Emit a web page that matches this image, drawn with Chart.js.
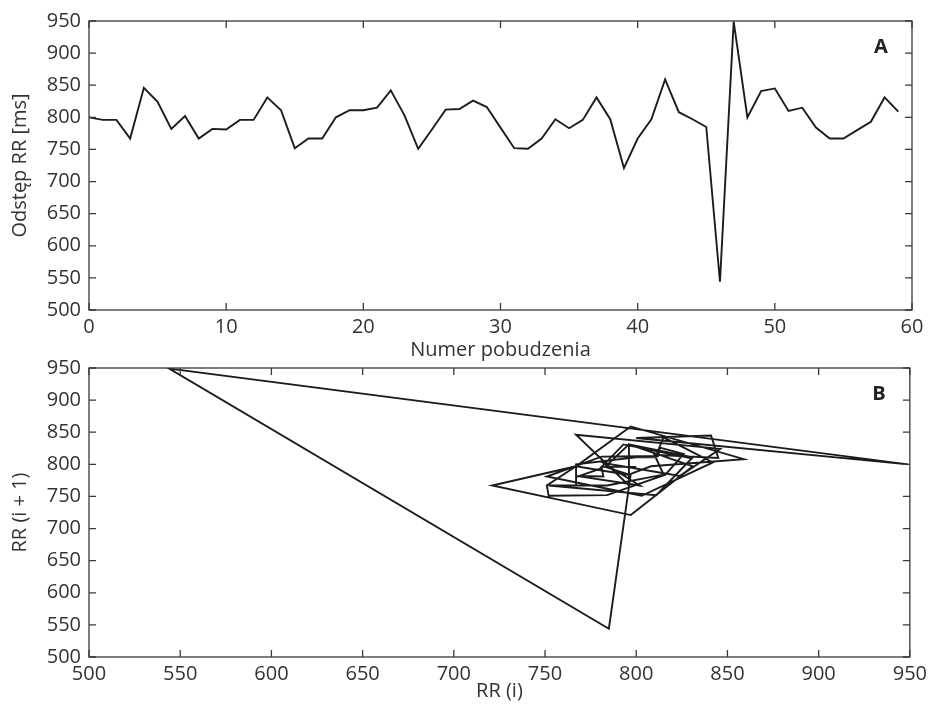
<!DOCTYPE html>
<html>
<head>
<meta charset="utf-8">
<script src="https://cdn.jsdelivr.net/npm/chart.js@4/dist/chart.umd.min.js"></script>
<style>
  html, body { margin: 0; padding: 0; background: #fff; }
  body { width: 932px; height: 707px; position: relative; overflow: hidden; }
  .box { position: absolute; left: 0; width: 932px; }
  #boxA { top: 0; height: 380px; }
  #boxB { top: 340px; height: 367px; }
</style>
</head>
<body>
<div class="box" id="boxA"><canvas id="chartA"></canvas></div>
<div class="box" id="boxB"><canvas id="chartB"></canvas></div>
<script>
// odstępy RR [ms] kolejnych pobudzeń
const rrValues = [
  800, 796, 796, 767, 846, 824, 782, 802, 767, 782,
  781, 796, 796, 831, 811, 752, 767, 767, 800, 811,
  811, 815, 842, 803, 751, 781, 812, 813, 826, 816,
  784, 752, 751, 767, 797, 783, 796, 831, 797, 721,
  767, 797, 859, 808, 797, 785, 544, 949, 800, 841,
  845, 810, 815, 784, 767, 767, 780, 793, 831, 809
];
const beatTicks = [0, 10, 20, 30, 40, 50, 60];
const rrTicks = [500, 550, 600, 650, 700, 750, 800, 850, 900, 950];

// punkty wykresu A: (numer pobudzenia, RR)
const seriesA = rrValues.map((v, i) => ({ x: i, y: v }));
// punkty wykresu B (Poincaré): (RR(i), RR(i + 1))
const seriesB = rrValues.slice(0, -1).map((v, i) => ({ x: v, y: rrValues[i + 1] }));

const FONT = '"Open Sans", "DejaVu Sans", sans-serif';
const TXT = '#333333';

// ramka i znaczniki skierowane do środka, oraz litera panelu
const frameTicks = {
  id: 'frameTicks',
  afterDatasetsDraw(chart, args, opts) {
    const { ctx, chartArea: a, scales: { x, y } } = chart;
    ctx.save();
    ctx.strokeStyle = '#3a3a3a';
    ctx.lineWidth = 1.3;
    ctx.strokeRect(a.left, a.top, a.width, a.height);
    ctx.beginPath();
    x.ticks.forEach(t => {
      const px = x.getPixelForValue(t.value);
      ctx.moveTo(px, a.bottom); ctx.lineTo(px, a.bottom - 7);
      ctx.moveTo(px, a.top); ctx.lineTo(px, a.top + 7);
    });
    y.ticks.forEach(t => {
      const py = y.getPixelForValue(t.value);
      ctx.moveTo(a.left, py); ctx.lineTo(a.left + 7, py);
      ctx.moveTo(a.right, py); ctx.lineTo(a.right - 7, py);
    });
    ctx.stroke();
    ctx.fillStyle = '#222';
    ctx.font = 'bold 20px ' + FONT;
    ctx.textAlign = 'center';
    ctx.textBaseline = 'middle';
    ctx.fillText(opts.letter, a.right - 31, a.top + 26);
    ctx.restore();
  }
};

function axis(min, max, step, title, isX, titlePad) {
  return {
    type: 'linear',
    min: min,
    max: max,
    afterBuildTicks: s => {
      s.ticks = (isX && max === 60 ? beatTicks : rrTicks).map(v => ({ value: v }));
    },
    afterFit: s => {
      if (isX) s.height = isX; else s.width = 89;
    },
    grid: { display: false, drawTicks: false },
    border: { display: false },
    ticks: {
      color: TXT,
      padding: isX ? 5 : 8,
      maxRotation: 0,
      autoSkip: false,
      font: { family: FONT, size: 20 }
    },
    title: {
      display: true,
      text: title,
      color: TXT,
      padding: titlePad,
      font: { family: FONT, size: 20 }
    }
  };
}

function makeChart(id, data, xCfg, yCfg, padding, letter) {
  return new Chart(document.getElementById(id), {
    type: 'scatter',
    data: {
      datasets: [{
        data: data,
        showLine: true,
        borderColor: '#1c1c1c',
        borderWidth: 1.9,
        pointRadius: 0,
        fill: false,
        tension: 0
      }]
    },
    options: {
      responsive: true,
      maintainAspectRatio: false,
      animation: false,
      layout: { padding: padding },
      plugins: {
        legend: { display: false },
        tooltip: { enabled: false },
        frameTicks: { letter: letter }
      },
      scales: { x: xCfg, y: yCfg }
    },
    plugins: [frameTicks]
  });
}

// A: szereg odstępów RR
makeChart('chartA', seriesA,
  axis(0, 60, 10, 'Numer pobudzenia', 55, { top: 0, bottom: 3 }),
  axis(500, 950, 50, 'Odstęp RR [ms]', false, { top: 8, bottom: 0 }),
  { top: 21, right: 20, bottom: 15, left: 0 }, 'A');

// B: wykres Poincaré
makeChart('chartB', seriesB,
  axis(500, 950, 50, 'RR (i)', 50, { top: 0, bottom: 4 }),
  axis(500, 950, 50, 'RR (i + 1)', false, { top: 8, bottom: 0 }),
  { top: 28, right: 21, bottom: 0, left: 0 }, 'B');
</script>
</body>
</html>
